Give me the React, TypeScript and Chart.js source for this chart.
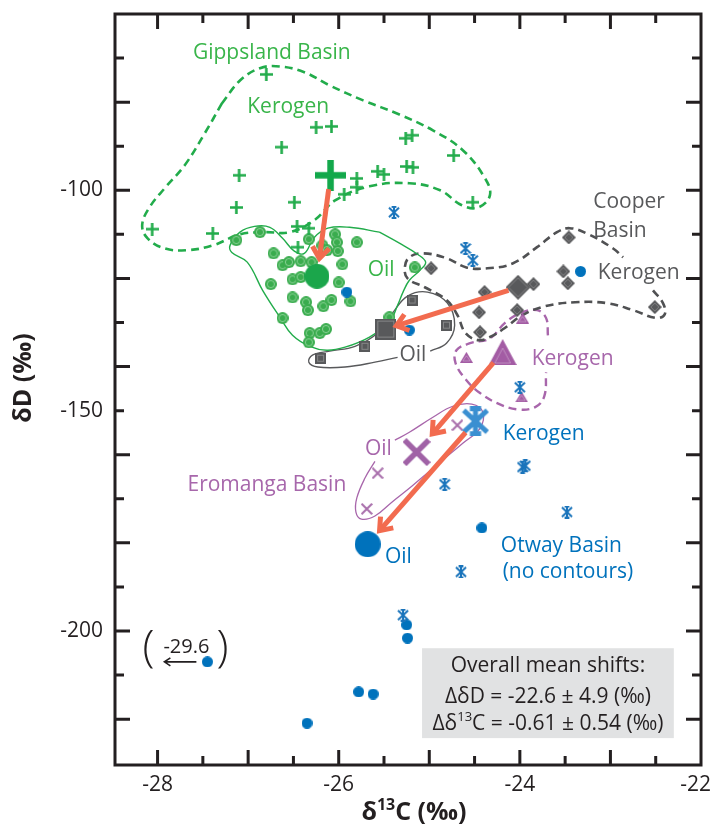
import React, { useEffect, useRef } from 'react';
import { Chart, registerables } from 'chart.js';

Chart.register(...registerables);

const FONT = '"Open Sans", "Noto Sans", "DejaVu Sans", sans-serif';
const INK = '#231f20';
const GREEN = '#22ac4b';
const GREEN_DOT = '#3aac4e';
const GREEN_TEXT = '#39b54a';
const GRAY = '#58595b';
const PURPLE = '#a35ca4';
const PURPLE_TEXT = '#a767ab';
const BLUE = '#0072bc';
const BLUE_LIGHT = '#3a8fd1';
const ARROW = '#f26b4f';

const X_MIN = -28.47;
const X_MAX = -22;
const Y_MIN = -230.4;
const Y_MAX = -60;
const X_TICK_LABELS = [-28, -26, -24, -22];
const Y_TICK_LABELS = [-200, -150, -100];
const X_TICK_MARKS = [-28, -27.5, -27, -26.5, -26, -25.5, -25, -24.5, -24, -23.5, -23, -22.5];
const Y_TICK_MARKS = [-220, -210, -200, -190, -180, -170, -160, -150, -140, -130, -120, -110, -100, -90, -80, -70];

// ---------- Gippsland Basin ----------
const GIPPS_KEROGEN = [
  [-26.80, -73.7], [-26.25, -85.7], [-26.08, -85.5], [-26.63, -90.2], [-27.10, -96.6],
  [-27.13, -103.9], [-26.49, -102.7], [-28.06, -108.8], [-27.39, -109.8], [-26.46, -108.2],
  [-26.33, -108.6], [-26.45, -112.9], [-25.94, -100.9], [-25.80, -97.3], [-25.80, -99.3],
  [-25.57, -95.7], [-25.50, -96.4], [-25.25, -94.6], [-25.18, -94.8], [-25.26, -88.2],
  [-25.19, -87.5], [-24.73, -92.1], [-24.52, -102.7],
];
const GIPPS_KEROGEN_MEAN = [-26.09, -96.6];
const GIPPS_OIL = [
  [-27.13, -111.3], [-26.87, -109.5], [-26.72, -114.3], [-26.62, -117.0], [-26.55, -116.3],
  [-26.42, -116.1], [-26.30, -116.3], [-26.33, -111.1], [-26.18, -112.5], [-26.04, -110.0],
  [-26.02, -111.8], [-26.01, -113.8], [-26.13, -113.6], [-25.80, -111.8], [-25.96, -116.8],
  [-26.51, -120.2], [-26.42, -119.7], [-26.75, -121.3], [-26.51, -124.3], [-26.36, -125.4],
  [-26.34, -127.2], [-26.17, -126.3], [-26.08, -124.9], [-26.00, -120.9], [-25.87, -125.2],
  [-26.62, -129.0], [-26.32, -132.4], [-26.33, -134.5], [-26.21, -132.4], [-26.14, -131.5],
  [-25.44, -128.8], [-25.16, -117.5],
];
const GIPPS_OIL_MEAN = [-26.24, -119.5];
const GIPPS_KEROGEN_CONTOUR = [
  [-27.29, -80.3], [-27.09, -75.1], [-26.87, -72.3], [-26.65, -71.9], [-26.38, -73.2],
  [-26.10, -76.2], [-25.73, -79.6], [-25.33, -82.8], [-24.96, -86.4], [-24.63, -90.9],
  [-24.39, -97.1], [-24.33, -101.1], [-24.46, -103.9], [-24.64, -103.4], [-24.88, -100.0],
  [-25.22, -98.4], [-25.66, -99.1], [-26.04, -102.3], [-26.27, -106.8], [-26.54, -109.5],
  [-26.82, -109.5], [-27.09, -110.0], [-27.39, -112.5], [-27.68, -113.6], [-27.92, -113.2],
  [-28.11, -110.9], [-28.17, -107.9], [-28.09, -103.9], [-27.92, -99.5], [-27.70, -94.3],
  [-27.48, -87.1], [-27.29, -80.3],
];
const GIPPS_OIL_CONTOUR = [
  [-25.55, -109.5], [-25.33, -112.0], [-25.13, -114.5], [-25.04, -116.3], [-25.10, -118.1],
  [-25.22, -120.4], [-25.29, -123.1], [-25.35, -126.1], [-25.44, -129.9], [-25.66, -133.3],
  [-25.93, -135.6], [-26.13, -136.3], [-26.32, -135.4], [-26.51, -132.9], [-26.65, -128.8],
  [-26.84, -122.7], [-27.01, -116.3], [-27.18, -114.1], [-27.20, -112.5], [-27.09, -109.5],
  [-26.93, -108.2], [-26.76, -108.4], [-26.62, -110.9], [-26.49, -113.8], [-26.38, -114.3],
  [-26.27, -110.7], [-26.12, -108.6], [-25.88, -108.4], [-25.55, -109.5],
];

// ---------- Cooper Basin ----------
const COOPER_KEROGEN = [
  [-24.98, -117.7], [-24.39, -123.1], [-24.45, -127.7], [-24.44, -132.2], [-24.03, -127.2],
  [-23.85, -121.3], [-23.52, -118.4], [-23.47, -121.1], [-23.46, -110.7], [-22.51, -126.5],
];
const COOPER_KEROGEN_MEAN = [-24.02, -122.0];
const COOPER_OIL = [[-26.20, -138.1], [-25.71, -135.4], [-25.19, -124.9], [-24.81, -130.6]];
const COOPER_OIL_MEAN = [-25.48, -131.5];
const COOPER_KEROGEN_CONTOUR = [
  [-22.53, -122.7], [-22.42, -125.6], [-22.40, -128.1], [-22.49, -129.0], [-22.75, -127.2],
  [-23.04, -125.6], [-23.39, -125.4], [-23.72, -126.3], [-23.97, -128.3], [-24.17, -131.3],
  [-24.33, -133.3], [-24.46, -134.0], [-24.60, -132.4], [-24.69, -128.3], [-24.81, -124.9],
  [-25.05, -122.0], [-25.24, -120.0], [-25.27, -117.5], [-25.22, -115.2], [-25.07, -114.3],
  [-24.81, -115.4], [-24.59, -117.5], [-24.36, -117.7], [-24.08, -116.6], [-23.81, -112.9],
  [-23.59, -109.5], [-23.45, -108.6], [-23.26, -109.8], [-22.97, -113.2], [-22.86, -115.2],
];
const COOPER_OIL_CONTOUR = [
  [-24.99, -136.5], [-24.81, -134.7], [-24.72, -130.6], [-24.80, -125.6], [-25.02, -123.1],
  [-25.24, -124.0], [-25.40, -127.7], [-25.57, -132.4], [-25.82, -135.4], [-26.10, -136.5],
  [-26.29, -137.4], [-26.33, -139.0], [-26.23, -140.1], [-25.93, -140.1], [-25.60, -139.0],
  [-25.35, -137.9],
];

// ---------- Eromanga Basin ----------
const EROM_KEROGEN = [[-23.97, -129.0], [-24.59, -137.9], [-23.98, -146.9]];
const EROM_KEROGEN_MEAN = [-24.19, -136.7];
const EROM_OIL = [[-24.69, -153.3], [-25.57, -164.2], [-25.69, -172.3]];
const EROM_OIL_MEAN = [-25.14, -159.4];
const EROM_KEROGEN_CONTOUR = [
  [-23.69, -132.9], [-23.71, -129.0], [-23.81, -127.2], [-24.00, -127.9], [-24.17, -130.2],
  [-24.33, -133.6], [-24.55, -134.7], [-24.70, -136.3], [-24.71, -139.2], [-24.59, -143.1],
  [-24.44, -146.0], [-24.25, -148.3], [-24.03, -149.7], [-23.83, -149.2], [-23.73, -146.7],
  [-23.71, -141.3],
];
const EROM_OIL_CONTOUR = [
  [-25.60, -161.5], [-25.71, -165.3], [-25.80, -169.8], [-25.81, -173.0], [-25.75, -174.6],
  [-25.60, -173.9], [-25.41, -170.7], [-25.19, -167.1], [-24.88, -161.7], [-24.63, -157.4],
  [-24.44, -154.0], [-24.41, -150.3], [-24.53, -148.5], [-24.74, -149.0], [-24.96, -151.5],
  [-25.22, -154.9], [-25.38, -156.7],
];

// ---------- Otway Basin ----------
const OTWAY_KEROGEN = [
  [-25.39, -105.0], [-24.60, -113.2], [-24.52, -115.9], [-24.00, -144.7], [-23.97, -162.8],
  [-23.94, -162.5], [-24.83, -166.7], [-23.48, -173.0], [-24.65, -186.6], [-25.29, -196.4],
];
const OTWAY_KEROGEN_MEAN = [-24.49, -152.4];
const OTWAY_OIL = [
  [-25.91, -123.1], [-25.22, -131.7], [-23.33, -118.4], [-24.42, -176.6], [-25.25, -198.6],
  [-25.24, -201.6], [-25.78, -213.8], [-25.62, -214.3], [-27.45, -207.0], [-26.35, -220.9],
];
const OTWAY_OIL_MEAN = [-25.68, -180.3];
const OFFSCALE_POINT = [-27.45, -207.0];
const OFFSCALE_TEXT = '-29.6';

// ---------- mean shifts (kerogen -> oil) ----------
const ARROW_FROM = [GIPPS_KEROGEN_MEAN, COOPER_KEROGEN_MEAN, EROM_KEROGEN_MEAN, OTWAY_KEROGEN_MEAN];
const ARROW_TO = [GIPPS_OIL_MEAN, COOPER_OIL_MEAN, EROM_OIL_MEAN, OTWAY_OIL_MEAN];
const ARROW_TRIM = [[14, 18], [10, 11], [14, 24], [15, 18]];

const TEXT_LABELS = [
  { text: 'Gippsland Basin', x: -27.61, y: -70.1, color: GREEN_TEXT },
  { text: 'Kerogen', x: -27.01, y: -82.5, color: GREEN_TEXT },
  { text: 'Oil', x: -25.68, y: -119.5, color: GREEN_TEXT },
  { text: 'Cooper', x: -23.19, y: -104.1, color: GRAY },
  { text: 'Basin', x: -23.19, y: -110.7, color: GRAY },
  { text: 'Kerogen', x: -23.14, y: -120.2, color: GRAY },
  { text: 'Oil', x: -25.33, y: -138.8, color: GRAY },
  { text: 'Kerogen', x: -23.87, y: -139.7, color: PURPLE_TEXT },
  { text: 'Oil', x: -25.71, y: -160.1, color: PURPLE_TEXT },
  { text: 'Eromanga Basin', x: -27.67, y: -168.3, color: PURPLE_TEXT },
  { text: 'Kerogen', x: -24.19, y: -156.7, color: BLUE },
  { text: 'Oil', x: -25.49, y: -184.6, color: BLUE },
  { text: 'Otway Basin', x: -24.21, y: -182.1, color: BLUE },
  { text: '(no contours)', x: -24.19, y: -188.0, color: BLUE },
];

const BOX = { x0: -25.08, x1: -22.30, y0: -203.9, y1: -224.3, cx: -23.69 };
const BOX_LINES = [
  { y: -209.3, parts: [{ t: 'Overall mean shifts:' }] },
  { y: -216.3, parts: [{ t: 'ΔδD = -22.6 ± 4.9 (‰)' }] },
  { y: -222.4, parts: [{ t: 'Δδ' }, { t: '13', sup: true }, { t: 'C = -0.61 ± 0.54 (‰)' }] },
];

// ---------- marker images ----------
function makeCanvas(w: number, h: number, draw: (c: CanvasRenderingContext2D) => void) {
  const cv = document.createElement('canvas');
  cv.width = w;
  cv.height = h;
  const c = cv.getContext('2d') as CanvasRenderingContext2D;
  draw(c);
  return cv;
}
const plusMark = (s: number, lw: number, color: string) =>
  makeCanvas(s, s, (c) => {
    c.strokeStyle = color;
    c.lineWidth = lw;
    c.beginPath();
    c.moveTo(0, s / 2); c.lineTo(s, s / 2);
    c.moveTo(s / 2, 0); c.lineTo(s / 2, s);
    c.stroke();
  });
const circleMark = (d: number, fill: string, ring?: string) =>
  makeCanvas(d, d, (c) => {
    c.fillStyle = fill;
    c.beginPath(); c.arc(d / 2, d / 2, d / 2, 0, Math.PI * 2); c.fill();
    if (ring) {
      c.strokeStyle = ring; c.lineWidth = 1;
      c.beginPath(); c.arc(d / 2, d / 2, d * 0.3, 0, Math.PI * 2); c.stroke();
    }
  });
const squareMark = (s: number, fill: string) =>
  makeCanvas(s, s, (c) => {
    c.fillStyle = fill; c.fillRect(0, 0, s, s);
    c.strokeStyle = 'rgba(255,255,255,0.28)'; c.lineWidth = 1;
    c.strokeRect(2.5, 2.5, s - 5, s - 5);
  });
const diamondMark = (d: number, fill: string) =>
  makeCanvas(d, d, (c) => {
    c.fillStyle = fill;
    c.beginPath(); c.moveTo(d / 2, 0); c.lineTo(d, d / 2); c.lineTo(d / 2, d); c.lineTo(0, d / 2); c.closePath(); c.fill();
    c.strokeStyle = 'rgba(255,255,255,0.25)'; c.lineWidth = 1;
    const k = 3;
    c.beginPath(); c.moveTo(d / 2, k); c.lineTo(d - k, d / 2); c.lineTo(d / 2, d - k); c.lineTo(k, d / 2); c.closePath(); c.stroke();
  });
const triangleMark = (w: number, h: number, fill: string) =>
  makeCanvas(w, h, (c) => {
    c.fillStyle = fill;
    c.beginPath(); c.moveTo(w / 2, 0); c.lineTo(w, h); c.lineTo(0, h); c.closePath(); c.fill();
    c.strokeStyle = 'rgba(255,255,255,0.3)'; c.lineWidth = 1;
    c.beginPath(); c.moveTo(w / 2, h * 0.35); c.lineTo(w * 0.78, h - 2); c.lineTo(w * 0.22, h - 2); c.closePath(); c.stroke();
  });
const xMark = (s: number, lw: number, color: string) =>
  makeCanvas(s, s, (c) => {
    c.strokeStyle = color; c.lineWidth = lw;
    const p = lw * 0.35;
    c.beginPath();
    c.moveTo(p, p); c.lineTo(s - p, s - p);
    c.moveTo(s - p, p); c.lineTo(p, s - p);
    c.stroke();
  });
const asteriskMark = (w: number, h: number, lw: number, color: string) =>
  makeCanvas(w, h, (c) => {
    c.strokeStyle = color; c.lineWidth = lw;
    const cx = w / 2, cy = h / 2;
    const dx = w * 0.42, dy = h * 0.36;
    c.beginPath();
    c.moveTo(cx - dx, cy - dy); c.lineTo(cx + dx, cy + dy);
    c.moveTo(cx + dx, cy - dy); c.lineTo(cx - dx, cy + dy);
    c.moveTo(cx, 0); c.lineTo(cx, h);
    c.moveTo(cx - w * 0.2, lw / 2); c.lineTo(cx + w * 0.2, lw / 2);
    c.moveTo(cx - w * 0.2, h - lw / 2); c.lineTo(cx + w * 0.2, h - lw / 2);
    c.stroke();
  });

const pts = (a: number[][]) => a.map(([x, y]) => ({ x, y }));

function drawRich(ctx: CanvasRenderingContext2D, parts: { t: string; sup?: boolean }[], cx: number, base: number, size: number) {
  const fontN = `${size}px ${FONT}`;
  const fontS = `${Math.round(size * 0.62)}px ${FONT}`;
  let total = 0;
  const widths = parts.map((p) => {
    ctx.font = p.sup ? fontS : fontN;
    const w = ctx.measureText(p.t).width;
    total += w;
    return w;
  });
  let x = cx - total / 2;
  ctx.textAlign = 'left';
  ctx.textBaseline = 'alphabetic';
  parts.forEach((p, i) => {
    ctx.font = p.sup ? fontS : fontN;
    ctx.fillText(p.t, x, p.sup ? base - size * 0.4 : base);
    x += widths[i];
  });
}

const overlay = {
  id: 'overlay',
  afterDatasetsDraw(chart: any) {
    const ctx: CanvasRenderingContext2D = chart.ctx;
    const xs = chart.scales.x;
    const ys = chart.scales.y;
    ctx.save();
    ctx.strokeStyle = ARROW;
    ctx.lineWidth = 5;
    ctx.lineCap = 'butt';
    ctx.lineJoin = 'miter';
    ARROW_FROM.forEach((f, i) => {
      const t = ARROW_TO[i];
      const [s0, s1] = ARROW_TRIM[i];
      const x0 = xs.getPixelForValue(f[0]);
      const y0 = ys.getPixelForValue(f[1]);
      const x1 = xs.getPixelForValue(t[0]);
      const y1 = ys.getPixelForValue(t[1]);
      const L = Math.hypot(x1 - x0, y1 - y0);
      const ux = (x1 - x0) / L;
      const uy = (y1 - y0) / L;
      const sx = x0 + ux * s0, sy = y0 + uy * s0;
      const ex = x1 - ux * s1, ey = y1 - uy * s1;
      ctx.beginPath();
      ctx.moveTo(sx, sy);
      ctx.lineTo(ex - ux * 3, ey - uy * 3);
      ctx.stroke();
      const ang = Math.atan2(uy, ux);
      const hl = 14, ha = 0.65;
      ctx.beginPath();
      ctx.moveTo(ex - hl * Math.cos(ang - ha), ey - hl * Math.sin(ang - ha));
      ctx.lineTo(ex, ey);
      ctx.lineTo(ex - hl * Math.cos(ang + ha), ey - hl * Math.sin(ang + ha));
      ctx.stroke();
    });
    ctx.restore();
  },
  afterDraw(chart: any) {
    const ctx: CanvasRenderingContext2D = chart.ctx;
    const xs = chart.scales.x;
    const ys = chart.scales.y;
    const ca = chart.chartArea;
    const px = (v: number) => xs.getPixelForValue(v);
    const py = (v: number) => ys.getPixelForValue(v);
    ctx.save();

    // info box
    ctx.fillStyle = '#e1e2e3';
    ctx.fillRect(px(BOX.x0), py(BOX.y0), px(BOX.x1) - px(BOX.x0), py(BOX.y1) - py(BOX.y0));
    ctx.fillStyle = INK;
    BOX_LINES.forEach((ln) => drawRich(ctx, ln.parts, px(BOX.cx), py(ln.y), 21));

    // text labels
    ctx.font = `21px ${FONT}`;
    ctx.textAlign = 'left';
    ctx.textBaseline = 'alphabetic';
    TEXT_LABELS.forEach((l) => {
      ctx.fillStyle = l.color;
      ctx.fillText(l.text, px(l.x), py(l.y));
    });

    // off-scale annotation
    const ax = px(OFFSCALE_POINT[0]);
    const ay = py(OFFSCALE_POINT[1]);
    ctx.fillStyle = INK;
    ctx.font = `300 44px ${FONT}`;
    ctx.textAlign = 'center';
    ctx.textBaseline = 'middle';
    ctx.fillText('(', ax - 59, ay - 12);
    ctx.fillText(')', ax + 15, ay - 12);
    ctx.textBaseline = 'alphabetic';
    ctx.font = `20px ${FONT}`;
    ctx.fillText(OFFSCALE_TEXT, ax - 21, ay - 9);
    ctx.strokeStyle = INK;
    ctx.lineWidth = 1.6;
    ctx.beginPath();
    ctx.moveTo(ax - 11, ay);
    ctx.lineTo(ax - 43, ay);
    ctx.moveTo(ax - 37, ay - 4);
    ctx.lineTo(ax - 43, ay);
    ctx.lineTo(ax - 37, ay + 4);
    ctx.stroke();

    // frame and inward ticks
    ctx.strokeStyle = INK;
    ctx.lineWidth = 3;
    ctx.strokeRect(ca.left, ca.top, ca.right - ca.left, ca.bottom - ca.top);
    ctx.beginPath();
    X_TICK_MARKS.forEach((v) => {
      const p = px(v);
      const len = Number.isInteger(v) ? 15 : 9;
      ctx.moveTo(p, ca.bottom); ctx.lineTo(p, ca.bottom - len);
      ctx.moveTo(p, ca.top); ctx.lineTo(p, ca.top + len);
    });
    Y_TICK_MARKS.forEach((v) => {
      const p = py(v);
      const len = v % 20 === 0 ? 15 : 9;
      ctx.moveTo(ca.left, p); ctx.lineTo(ca.left + len, p);
      ctx.moveTo(ca.right, p); ctx.lineTo(ca.right - len, p);
    });
    ctx.stroke();

    // x tick labels
    ctx.fillStyle = INK;
    ctx.font = `21px ${FONT}`;
    ctx.textAlign = 'center';
    ctx.textBaseline = 'alphabetic';
    X_TICK_LABELS.forEach((v) => {
      const s = String(v);
      const w = ctx.measureText(s).width;
      let c = px(v);
      if (c + w / 2 > chart.width - 2) c = chart.width - 2 - w / 2;
      ctx.fillText(s, c, ca.bottom + 26);
    });

    // axis titles
    const TS = 25;
    ctx.font = `bold ${TS}px ${FONT}`;
    const p1 = 'δ', p2 = '13', p3 = 'C (‰)';
    const w1 = ctx.measureText(p1).width;
    const w3 = ctx.measureText(p3).width;
    ctx.font = `bold 16px ${FONT}`;
    const w2 = ctx.measureText(p2).width;
    let tx = 414 - (w1 + w2 + w3) / 2;
    const tb = ca.bottom + 55;
    ctx.textAlign = 'left';
    ctx.font = `bold ${TS}px ${FONT}`;
    ctx.fillText(p1, tx, tb);
    tx += w1;
    ctx.font = `bold 16px ${FONT}`;
    ctx.fillText(p2, tx, tb - 10);
    tx += w2;
    ctx.font = `bold ${TS}px ${FONT}`;
    ctx.fillText(p3, tx, tb);

    ctx.save();
    ctx.translate(22, 378);
    ctx.rotate(-Math.PI / 2);
    ctx.textAlign = 'center';
    ctx.textBaseline = 'alphabetic';
    ctx.fillText('δD (‰)', 0, 9);
    ctx.restore();

    ctx.restore();
  },
};

export default function App() {
  const ref = useRef<HTMLCanvasElement>(null);
  useEffect(() => {
    const S = {
      gPlus: plusMark(13, 2.6, GREEN),
      gPlusBig: plusMark(31, 6.5, '#12a84b'),
      gDot: circleMark(12, GREEN_DOT, 'rgba(200,240,205,0.55)'),
      gDotBig: circleMark(25, '#1ba64b'),
      bDot: circleMark(11, BLUE),
      bDotBig: circleMark(26, BLUE),
      sq: squareMark(11, GRAY),
      sqBig: squareMark(21, GRAY),
      dia: diamondMark(14, GRAY),
      diaBig: diamondMark(25, GRAY),
      tri: triangleMark(13, 11, PURPLE),
      triBig: triangleMark(28, 26, PURPLE),
      x: xMark(12, 2, '#a86eab'),
      xBig: xMark(28, 5.5, '#a062a6'),
      ast: asteriskMark(12, 13, 2, '#1a74bb'),
      astBig: asteriskMark(28, 30, 5, BLUE_LIGHT),
    };
    const marker = (label: string, data: number[][], style: any, order: number) => ({
      label,
      data: pts(data),
      pointStyle: style,
      pointRadius: 6,
      pointHoverRadius: 6,
      showLine: false,
      order,
    });
    const contour = (label: string, data: number[][], color: string, width: number, dash: number[]) => ({
      label,
      data: pts(data),
      showLine: true,
      borderColor: color,
      borderWidth: width,
      borderDash: dash,
      pointRadius: 0,
      pointHoverRadius: 0,
      tension: 0.4,
      fill: false,
      order: 20,
    });
    const datasets = [
      contour('Gippsland kerogen contour', GIPPS_KEROGEN_CONTOUR, GREEN, 2.6, [8, 5]),
      contour('Gippsland oil contour', GIPPS_OIL_CONTOUR, GREEN, 1.4, []),
      contour('Cooper kerogen contour', COOPER_KEROGEN_CONTOUR, '#505153', 2.6, [8, 5]),
      contour('Cooper oil contour', COOPER_OIL_CONTOUR, GRAY, 1.4, []),
      contour('Eromanga kerogen contour', EROM_KEROGEN_CONTOUR, '#a866ab', 2.4, [8, 5]),
      contour('Eromanga oil contour', EROM_OIL_CONTOUR, '#a866ab', 1.3, []),
      marker('Gippsland kerogen', GIPPS_KEROGEN, S.gPlus, 12),
      marker('Gippsland oil', GIPPS_OIL, S.gDot, 12),
      marker('Cooper kerogen', COOPER_KEROGEN, S.dia, 11),
      marker('Cooper oil', COOPER_OIL, S.sq, 11),
      marker('Eromanga kerogen', EROM_KEROGEN, S.tri, 10),
      marker('Eromanga oil', EROM_OIL, S.x, 10),
      marker('Otway kerogen', OTWAY_KEROGEN, S.ast, 9),
      marker('Otway oil', OTWAY_OIL, S.bDot, 9),
      marker('Gippsland kerogen mean', [GIPPS_KEROGEN_MEAN], S.gPlusBig, 2),
      marker('Gippsland oil mean', [GIPPS_OIL_MEAN], S.gDotBig, 2),
      marker('Cooper kerogen mean', [COOPER_KEROGEN_MEAN], S.diaBig, 2),
      marker('Cooper oil mean', [COOPER_OIL_MEAN], S.sqBig, 2),
      marker('Eromanga kerogen mean', [EROM_KEROGEN_MEAN], S.triBig, 2),
      marker('Eromanga oil mean', [EROM_OIL_MEAN], S.xBig, 2),
      marker('Otway kerogen mean', [OTWAY_KEROGEN_MEAN], S.astBig, 1),
      marker('Otway oil mean', [OTWAY_OIL_MEAN], S.bDotBig, 1),
    ];
    const chart = new Chart(ref.current as HTMLCanvasElement, {
      type: 'scatter',
      data: { datasets: datasets as any },
      options: {
        animation: false,
        responsive: false,
        devicePixelRatio: 1,
        events: [],
        layout: { padding: { left: 0, top: 14, right: 12, bottom: 0 } },
        plugins: { legend: { display: false }, tooltip: { enabled: false } },
        scales: {
          x: {
            type: 'linear',
            min: X_MIN,
            max: X_MAX,
            grid: { display: false, drawTicks: false },
            border: { display: false },
            ticks: { display: false },
            afterFit: (s: any) => {
              s.height = 62;
              s.paddingLeft = 0; s.paddingRight = 0; s.paddingTop = 0; s.paddingBottom = 0;
            },
          },
          y: {
            type: 'linear',
            min: Y_MIN,
            max: Y_MAX,
            grid: { display: false, drawTicks: false },
            border: { display: false },
            afterBuildTicks: (s: any) => { s.ticks = Y_TICK_LABELS.map((v) => ({ value: v })); },
            ticks: {
              padding: 12,
              color: INK,
              font: { family: FONT, size: 21 },
              callback: (v: any) => String(v),
            },
            afterFit: (s: any) => {
              s.width = 115;
              s.paddingTop = 0; s.paddingBottom = 0; s.paddingLeft = 0; s.paddingRight = 0;
            },
          },
        },
      },
      plugins: [overlay],
    } as any);
    return () => chart.destroy();
  }, []);
  return (
    <div style={{ position: 'absolute', left: 0, top: 0, width: 713, height: 827, background: '#fff' }}>
      <canvas ref={ref} width={713} height={827} style={{ display: 'block' }} />
    </div>
  );
}
